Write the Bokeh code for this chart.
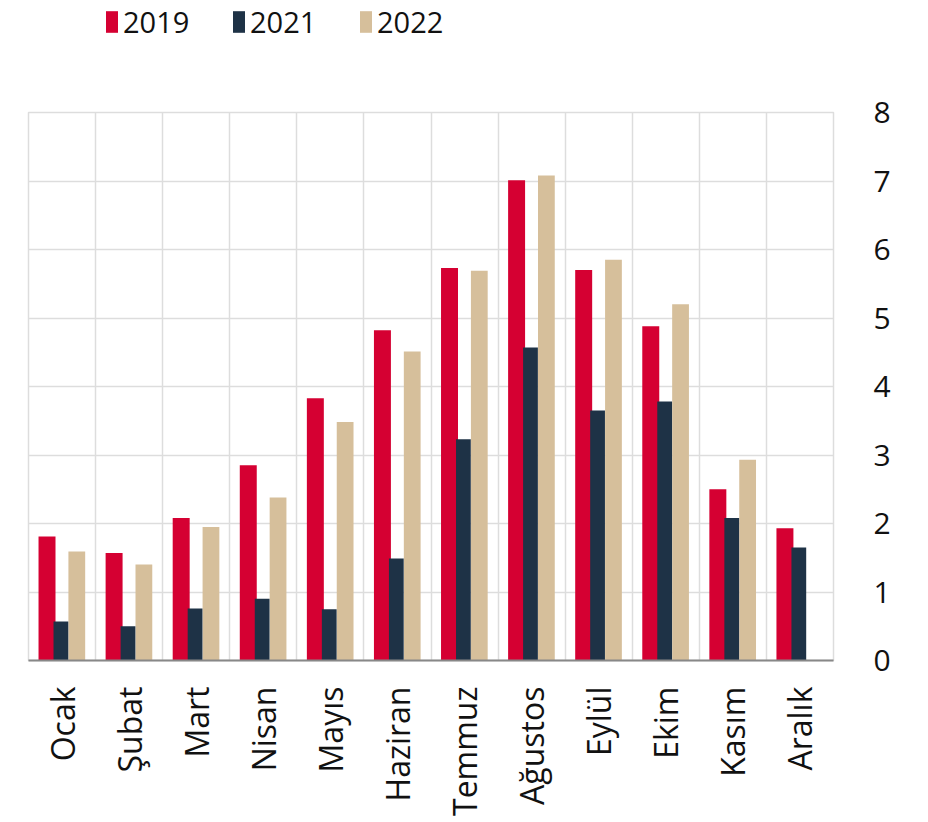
import math
from bokeh.plotting import figure
from bokeh.layouts import column
from bokeh.models import ColumnDataSource, FactorRange, Legend, LegendItem, FixedTicker
from bokeh.transform import dodge
from bokeh.embed import file_html
from bokeh.resources import INLINE

months = ["Ocak", "Şubat", "Mart", "Nisan", "Mayıs", "Haziran",
          "Temmuz", "Ağustos", "Eylül", "Ekim", "Kasım", "Aralık"]
v2019 = [1.81, 1.57, 2.08, 2.85, 3.83, 4.82, 5.73, 7.01, 5.70, 4.88, 2.50, 1.93]
v2021 = [0.57, 0.50, 0.76, 0.90, 0.75, 1.49, 3.23, 4.57, 3.65, 3.78, 2.08, 1.65]
v2022 = [1.59, 1.40, 1.95, 2.38, 3.48, 4.51, 5.69, 7.08, 5.85, 5.20, 2.93, float("nan")]
series_names = ["2019", "2021", "2022"]
y_ticks = [0, 1, 2, 3, 4, 5, 6, 7, 8]

C_RED = "#D50032"
C_NAVY = "#1E3246"
C_TAN = "#D6BF9B"
COLORS = [C_RED, C_NAVY, C_TAN]
FONT = "Open Sans"

src = ColumnDataSource(dict(month=months, a=v2019, b=v2021, c=v2022))

# ---- legend strip (top) ----
leg = figure(width=912, height=92, x_range=(0, 1), y_range=(0, 1), title=None,
             x_axis_location=None, y_axis_location=None, min_border=0,
             output_backend="svg", toolbar_location=None)
leg.grid.visible = False
leg.outline_line_color = None
# legend-key renderers only (a single NaN row: nothing is drawn in the strip)
key_src = ColumnDataSource(dict(x=[float("nan")], top=[float("nan")]))
leg_renderers = [leg.vbar(x="x", top="top", width=0.1, source=key_src, color=c, line_color=None)
                 for c in COLORS]
legend = Legend(items=[LegendItem(label=n, renderers=[r]) for n, r in zip(series_names, leg_renderers)],
                orientation="horizontal", location=(76, 51),
                glyph_width=15, glyph_height=27, label_width=108, label_standoff=4,
                spacing=0, padding=0, margin=0, label_height=27,
                label_text_font=FONT, label_text_font_size="29px",
                label_text_color="#111111",
                border_line_color=None, background_fill_alpha=0)
leg.add_layout(legend, "center")

# ---- main chart ----
p = figure(x_range=FactorRange(*months), y_range=(0, 8), title=None,
           frame_width=805, frame_height=548,
           min_border_left=28, min_border_top=20, min_border_right=10, min_border_bottom=10,
           y_axis_location="right", output_backend="svg", toolbar_location=None)

p.vbar(x=dodge("month", -0.224, range=p.x_range), top="a", width=0.253,
       source=src, color=C_RED, line_color=None)
p.vbar(x=dodge("month", 0.22, range=p.x_range), top="c", width=0.25,
       source=src, color=C_TAN, line_color=None)
p.vbar(x=dodge("month", -0.017, range=p.x_range), top="b", width=0.22,
       source=src, color=C_NAVY, line_color=None)

p.outline_line_color = "#dddddd"
p.outline_line_width = 1.5

p.xgrid.ticker = FixedTicker(ticks=list(range(13)))
p.xgrid.grid_line_color = "#dddddd"
p.xgrid.grid_line_width = 1.5
p.ygrid.ticker = FixedTicker(ticks=y_ticks)
p.ygrid.grid_line_color = "#dddddd"
p.ygrid.grid_line_width = 1.5

p.yaxis.ticker = FixedTicker(ticks=y_ticks)
p.yaxis.axis_line_color = None
p.yaxis.major_tick_line_color = None
p.yaxis.minor_tick_line_color = None
p.yaxis.major_label_standoff = 34
p.yaxis.major_label_text_font = FONT
p.yaxis.major_label_text_font_size = "30px"
p.yaxis.major_label_text_color = "#111111"

p.xaxis.axis_line_color = "#888888"
p.xaxis.axis_line_width = 2
p.xaxis.major_tick_line_color = None
p.xaxis.minor_tick_line_color = None
p.xaxis.major_label_orientation = math.pi / 2
p.xaxis.major_label_standoff = 20
p.xaxis.major_label_text_font = FONT
p.xaxis.major_label_text_font_size = "32px"
p.xaxis.major_label_text_color = "#111111"

layout = column(leg, p, spacing=0)
open("out.html", "w").write(file_html(layout, INLINE))
